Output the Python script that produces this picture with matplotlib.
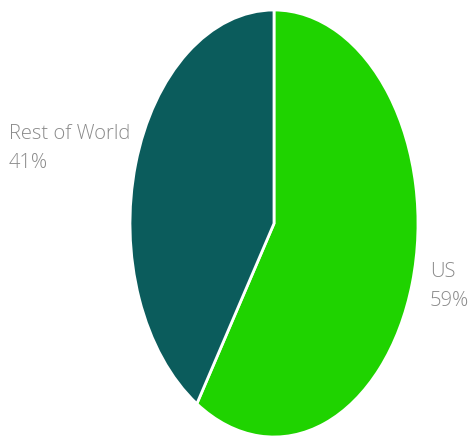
import matplotlib
matplotlib.use('Agg')
import matplotlib.pyplot as plt

labels = ['US', 'Rest of World']
shares = [59, 41]
colors = ['#1fd300', '#0b5c5c']

plt.rcParams['font.family'] = ['Open Sans', 'DejaVu Sans']

fig = plt.figure(figsize=(4.7, 4.38), dpi=100)
ax = fig.add_axes([130/470, 1/438, 288/470, 427/438])
ax.pie(shares, colors=colors, startangle=90, counterclock=False,
       wedgeprops={'edgecolor': 'white', 'linewidth': 2})
ax.set_aspect('auto')
ax.set_xlim(-1.0, 1.0)
ax.set_ylim(-1.0, 1.0)

fig.text(9/470, 1 - 124/438, f"{labels[1]}\n{shares[1]}%", ha='left', va='top',
         fontsize=14.5, color='#8a8a8a', fontweight='light', linespacing=1.6)
fig.text(430/470, 1 - 262/438, f"{labels[0]}\n{shares[0]}%", ha='left', va='top',
         fontsize=14.5, color='#8a8a8a', fontweight='light', linespacing=1.6)

fig.savefig('out.png', dpi=100)
